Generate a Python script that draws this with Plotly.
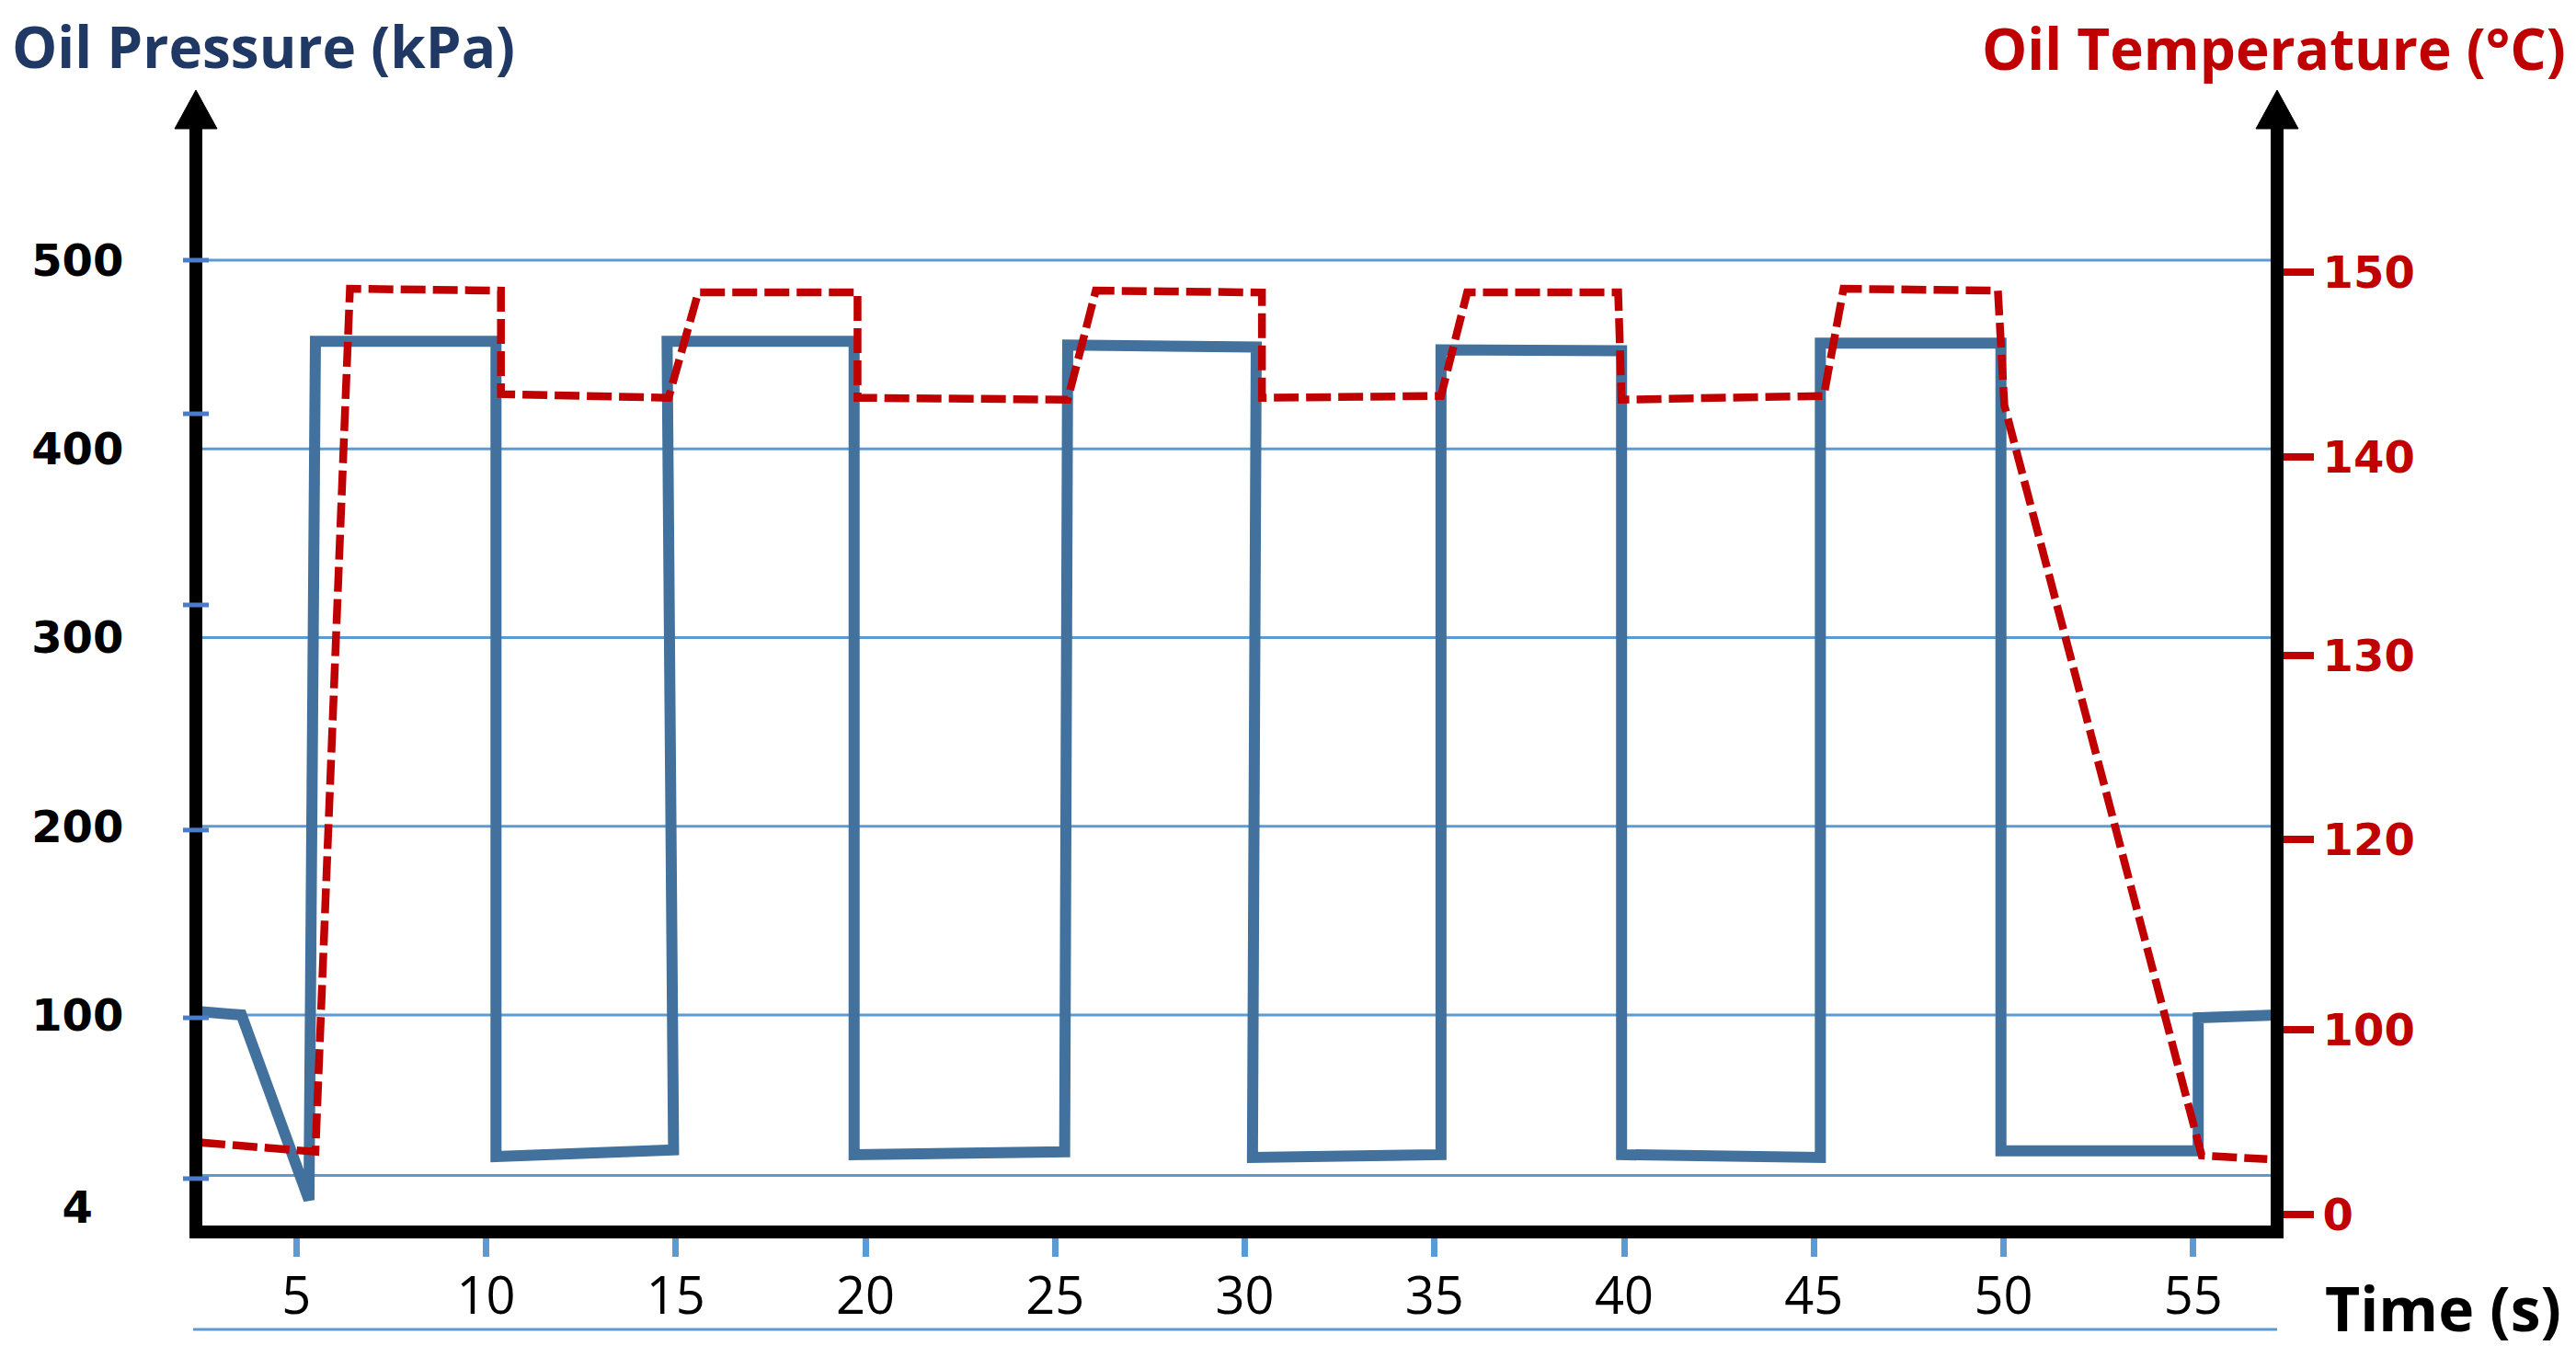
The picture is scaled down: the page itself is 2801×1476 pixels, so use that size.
import plotly.graph_objects as go

# ---------------- data ----------------
time_pressure = [2.35, 3.55, 5.33, 5.50, 10.26, 10.26, 14.94, 14.77, 19.70, 19.70,
                 25.25, 25.33, 30.30, 30.20, 35.17, 35.17, 39.93, 39.93, 45.17, 45.17,
                 49.93, 49.93, 55.13, 55.13, 57.20]
oil_pressure = [102, 100, 2, 457, 457, 25, 28.5, 457, 457, 26,
                27.5, 455, 454, 24.5, 26, 452.5, 452, 26, 24.5, 456,
                456, 28, 28, 98.5, 100]

time_temperature = [2.47, 5.50, 6.41, 10.39, 10.39, 14.81, 15.59, 19.79, 19.79, 25.33,
                    26.07, 30.45, 30.45, 35.17, 35.86, 39.84, 39.93, 45.26, 45.78, 49.85,
                    50.02, 55.22, 56.95]
oil_temperature = [102.9, 102.4, 149.1, 149.0, 143.4, 143.2, 148.9, 148.9, 143.2, 143.1,
                   149.0, 148.9, 143.2, 143.3, 148.9, 148.9, 143.1, 143.3, 149.1, 149.0,
                   142.8, 102.2, 102.0]

x_ticks = [5, 10, 15, 20, 25, 30, 35, 40, 45, 50, 55]
pressure_tick_vals = [-2, 100, 200, 300, 400, 500]
pressure_tick_text = ["4\u00a0\u00a0", "100", "200", "300", "400", "500"]
pressure_grid_vals = [500, 400, 300, 200, 100, 15]
pressure_axis_marks = [500, 418.6, 317.3, 198, 98.5, 13.3]
temp_tick_vals = [150, 140, 129.25, 119.3, 109.0, 99.0]
temp_tick_text = ["150", "140", "130", "120", "100", "0"]

# ---------------- layout geometry (page pixels) ----------------
PAGE_W, PAGE_H = 2801, 1476
OFF = 8                      # default body margin of the html page
W, H = PAGE_W - OFF, PAGE_H - OFF
L, R, T, B = 220, 2469, 137, 1333   # plot area in page pixels


def px(x):
    return (x - L) / (R - L)


def py(y):
    return (B - y) / (B - T)


BLUE = "#41719C"
RED = "#C00000"
GRID = "#5B9BD5"
NAVY = "#1F3864"

fig = go.Figure()
fig.add_trace(go.Scatter(
    x=time_pressure, y=oil_pressure, mode="lines", yaxis="y",
    line=dict(color=BLUE, width=12), showlegend=False, name="Oil Pressure"))
fig.add_trace(go.Scatter(
    x=time_temperature, y=oil_temperature, mode="lines", yaxis="y2",
    line=dict(color=RED, width=8.5, dash="27px,8px"), showlegend=False,
    name="Oil Temperature"))

shapes = []
for v in pressure_grid_vals:
    shapes.append(dict(type="line", xref="paper", yref="y", x0=0, x1=1, y0=v, y1=v,
                       line=dict(color=GRID, width=3), layer="below"))
for v in pressure_axis_marks:
    shapes.append(dict(type="line", xref="paper", yref="y", x0=px(199), x1=px(227),
                       y0=v, y1=v, line=dict(color="#4A7CC9", width=5), layer="above"))
# line under the time labels
shapes.append(dict(type="line", xref="paper", yref="paper", x0=px(210), x1=px(2476),
                   y0=py(1446), y1=py(1446), line=dict(color=GRID, width=3)))
# arrow heads
for ax_x in (213, 2476):
    shapes.append(dict(type="path", xref="paper", yref="paper",
                       path=f"M {px(ax_x-23)},{py(140)} L {px(ax_x)},{py(98)} L {px(ax_x+23)},{py(140)} Z",
                       fillcolor="black", line=dict(color="black", width=1)))

annotations = [
    dict(text="Oil Pressure (kPa)", xref="paper", yref="paper", x=px(11), y=py(50),
         xanchor="left", yanchor="middle", showarrow=False,
         font=dict(family="Open Sans", size=62, color=NAVY, weight="bold")),
    dict(text="Oil Temperature (°C)", xref="paper", yref="paper", x=px(2792), y=py(52),
         xanchor="right", yanchor="middle", showarrow=False,
         font=dict(family="Open Sans", size=62, color=RED, weight="bold")),
    dict(text="Time (s)", xref="paper", yref="paper", x=px(2526), y=py(1422),
         xanchor="left", yanchor="middle", showarrow=False,
         font=dict(family="Open Sans", size=66, color="black", weight="bold")),
]

fig.update_layout(
    width=W, height=H,
    margin=dict(l=L - OFF, r=PAGE_W - R, t=T - OFF, b=PAGE_H - B, pad=0),
    paper_bgcolor="white", plot_bgcolor="white",
    showlegend=False,
    shapes=shapes, annotations=annotations,
    xaxis=dict(range=[(L - 116.1) / 41.25, (R - 116.1) / 41.25],
               tickvals=x_ticks, ticks="outside", ticklen=20, tickwidth=7,
               tickcolor=GRID, showgrid=False, zeroline=False,
               showline=True, linewidth=14, linecolor="black",
               tickfont=dict(family="Open Sans", size=56, color="black"),
               ticklabelstandoff=-5),
    yaxis=dict(range=[500 - (B - 283) / 2.0525, 500 + (283 - T) / 2.0525],
               tickvals=pressure_tick_vals, ticktext=pressure_tick_text,
               ticks="", showgrid=False, zeroline=False,
               showline=True, linewidth=14, linecolor="black",
               tickfont=dict(family="DejaVu Sans", size=48, color="black", weight="bold"),
               ticklabelstandoff=62),
    yaxis2=dict(overlaying="y", side="right",
                range=[150 - (B - 296) / 20.1, 150 + (296 - T) / 20.1],
                tickvals=temp_tick_vals, ticktext=temp_tick_text,
                ticks="outside", ticklen=33, tickwidth=8, tickcolor=RED,
                showgrid=False, zeroline=False,
                showline=True, linewidth=14, linecolor="black",
                tickfont=dict(family="DejaVu Sans", size=48, color=RED, weight="bold"),
                ticklabelstandoff=0),
)

fig.write_html("out.html")
